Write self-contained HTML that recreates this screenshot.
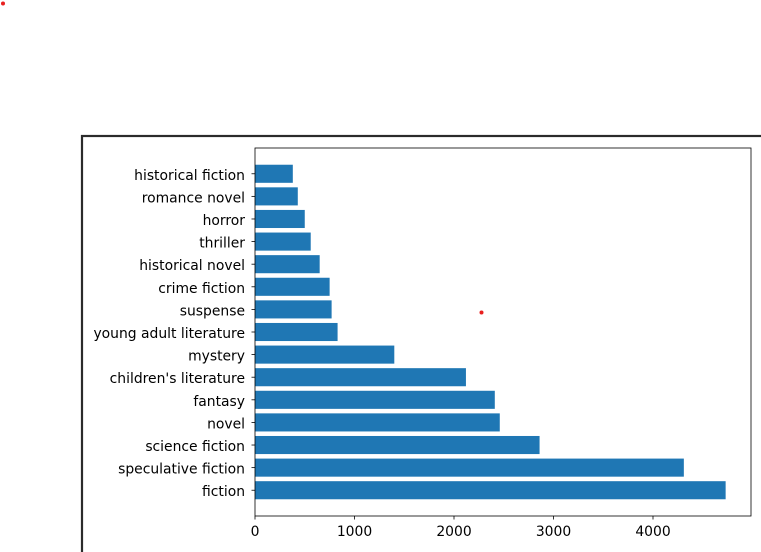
<!DOCTYPE html>
<html><head><meta charset="utf-8"><style>
body{margin:0;background:#fff;width:761px;height:552px;overflow:hidden}
svg{display:block;font-family:"DejaVu Sans","Liberation Sans",sans-serif}
</style></head><body>
<svg id="c" width="761" height="552">
<rect x="82" y="136" width="681" height="420" fill="none" stroke="#2b2b2b" stroke-width="2.2"/>
<circle cx="3" cy="3.5" r="2" fill="#e8201f"/>
<circle cx="481.5" cy="312.5" r="2" fill="#e8201f"/>
<g id="g"></g>
</svg>
<script>
const categories=["fiction","speculative fiction","science fiction","novel","fantasy","children's literature","mystery","young adult literature","suspense","crime fiction","historical novel","thriller","horror","romance novel","historical fiction"];
const values=[4730,4310,2860,2460,2410,2120,1400,830,770,750,650,560,500,430,380];
const xTicks=[0,1000,2000,3000,4000];
const NS="http://www.w3.org/2000/svg";
const g=document.getElementById('g');
const L=255,R=751,T=148,B=516;
const xs=v=>L+v*0.0995;
const n=categories.length;
const lo=-0.4-0.74,hi=n-1+0.4+0.74;
const ys=i=>B-(i-lo)/(hi-lo)*(B-T);
const uh=(B-T)/(hi-lo);
function el(t,a){const e=document.createElementNS(NS,t);for(const k in a)e.setAttribute(k,a[k]);g.appendChild(e);return e;}
categories.forEach((c,i)=>{
  const b=el('rect',{x:L,y:ys(i)-0.4*uh,width:xs(values[i])-L,height:0.8*uh,fill:'#1f77b4'});
  
  
  const tk=el('line',{x1:L-3.5,x2:L,y1:ys(i),y2:ys(i),stroke:'#000','stroke-width':0.8});
  
  
  const t=el('text',{x:L-10,y:ys(i)+6,'text-anchor':'end','font-size':13.9,fill:'#000'});
  t.textContent=c;
  
  
});
xTicks.forEach(v=>{
  const tk=el('line',{x1:xs(v),x2:xs(v),y1:B,y2:B+3.5,stroke:'#000','stroke-width':0.8});
  
  
  const t=el('text',{x:xs(v),y:B+20,'text-anchor':'middle','font-size':13.9,fill:'#000'});
  t.textContent=v;
  
  
});
const f=el('rect',{x:L,y:T,width:R-L,height:B-T,fill:'none',stroke:'#000','stroke-width':0.8});


</script>
</body></html>
